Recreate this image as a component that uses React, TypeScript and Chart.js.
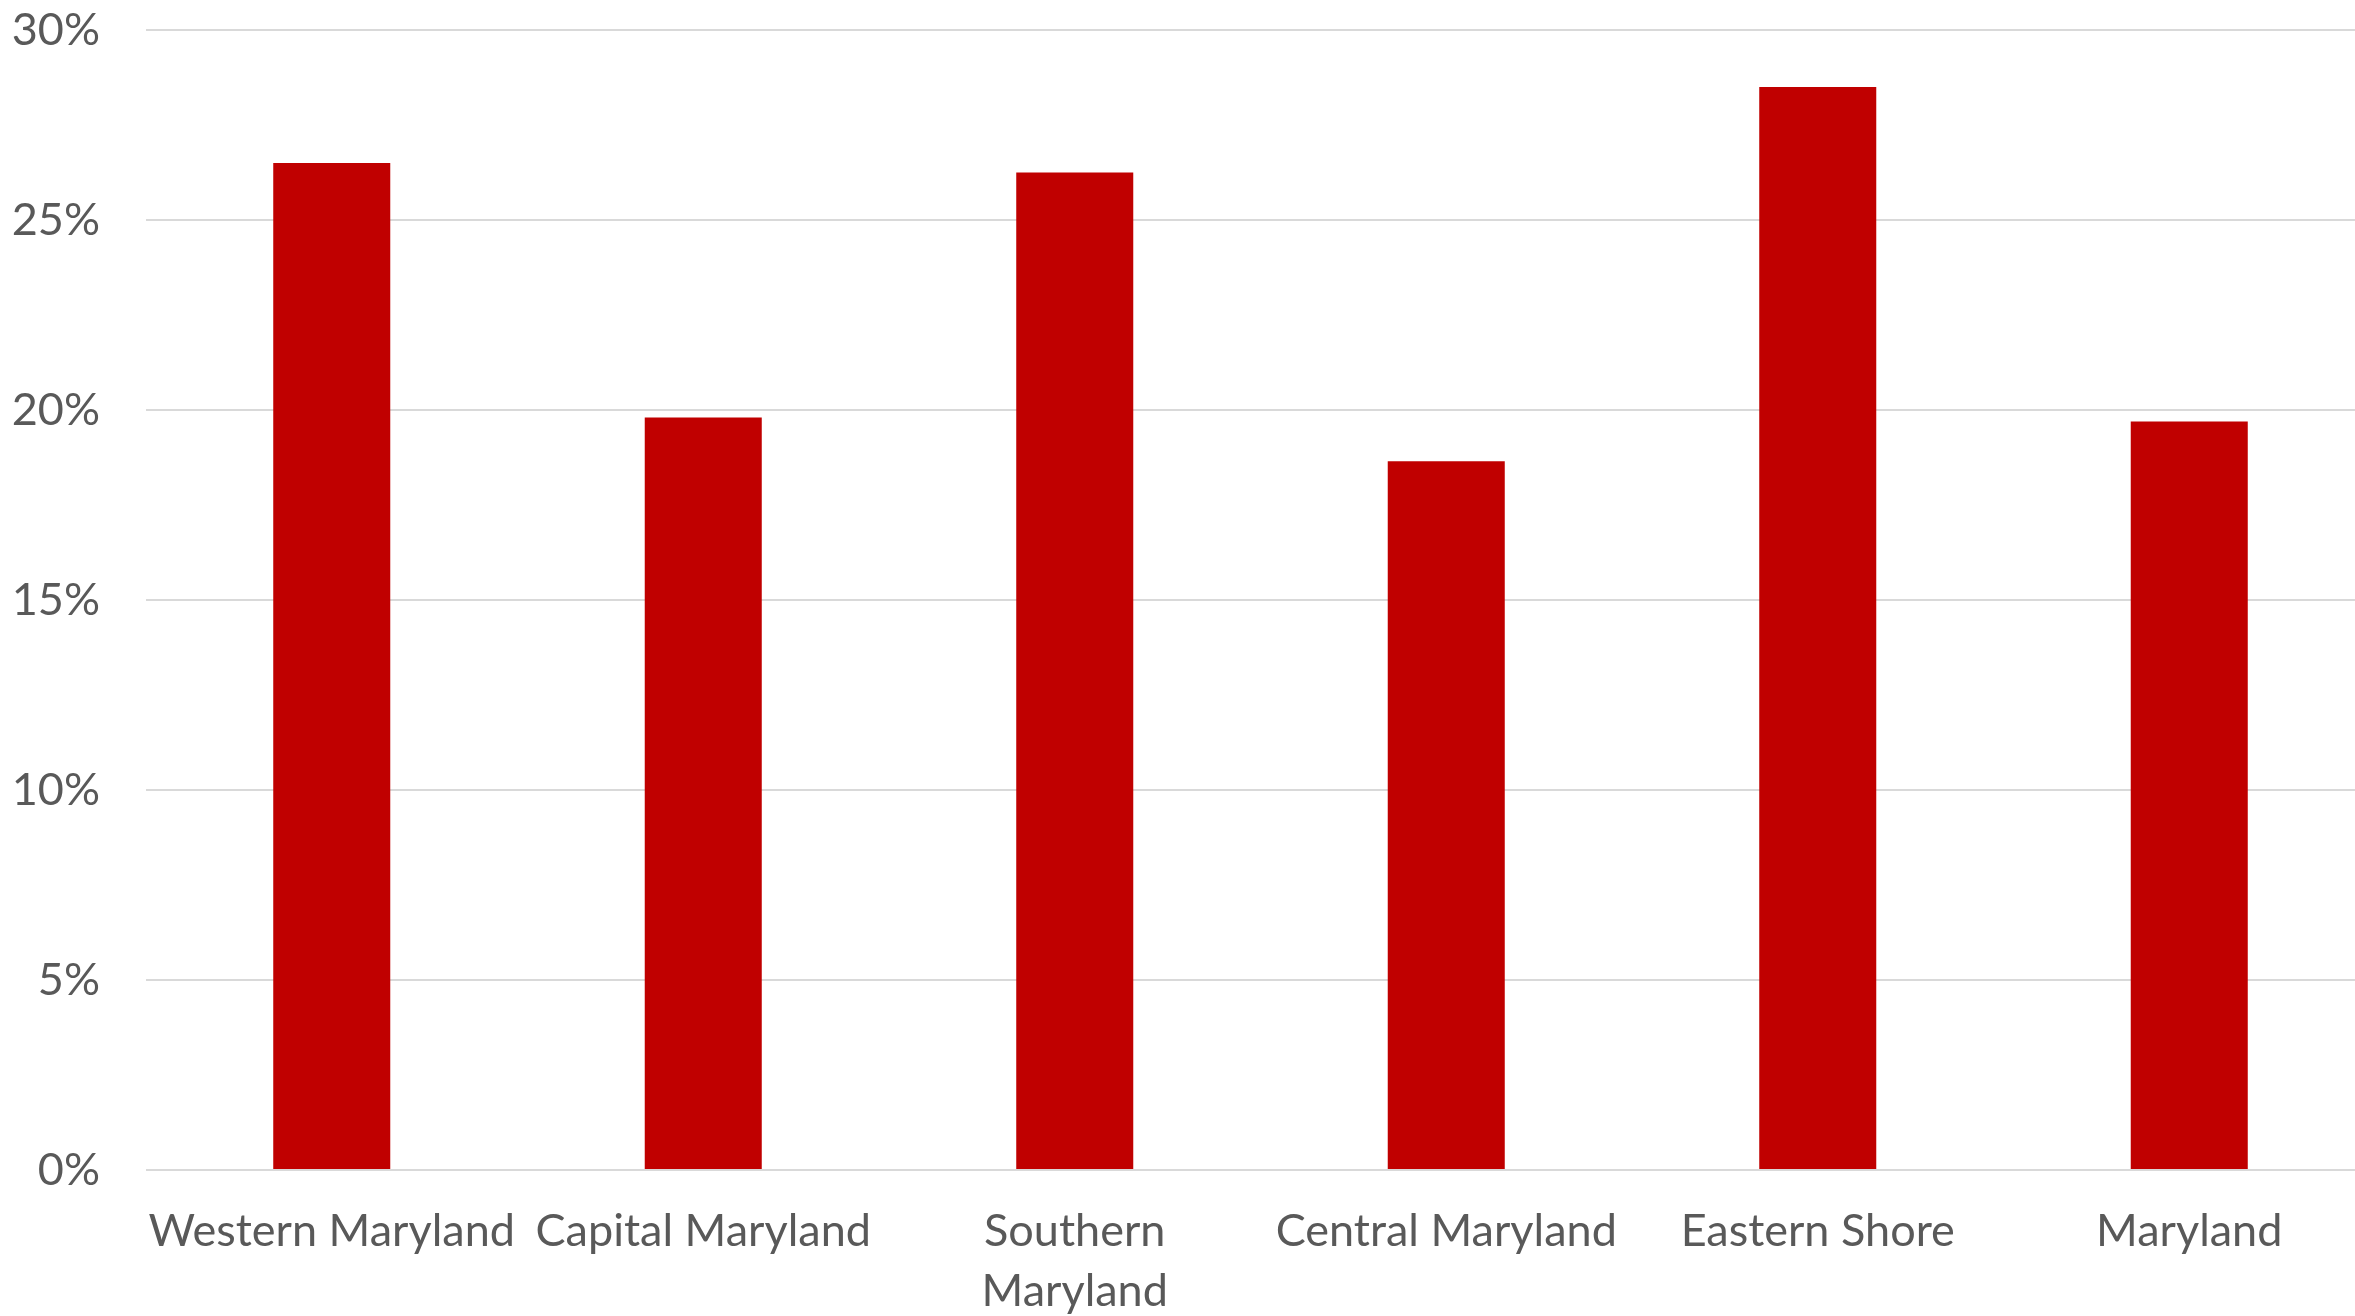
import React, { useEffect, useRef } from "react";
import { Chart, registerables } from "chart.js";

Chart.register(...registerables);

const categories: (string | string[])[] = [
  "Western Maryland",
  "Capital Maryland",
  ["Southern", "Maryland"],
  "Central Maryland",
  "Eastern Shore",
  "Maryland",
];
const values: number[] = [26.5, 19.8, 26.25, 18.65, 28.5, 19.7];
const yTicks: number[] = [0, 5, 10, 15, 20, 25, 30];

export default function App() {
  const ref = useRef<HTMLCanvasElement | null>(null);
  useEffect(() => {
    if (!ref.current) return;
    const font = { family: "Lato", size: 45, lineHeight: 1.32 };
    const chart = new Chart(ref.current, {
      type: "bar",
      data: {
        labels: categories,
        datasets: [
          {
            data: values,
            backgroundColor: "#C00000",
            borderWidth: 0,
            categoryPercentage: 1,
            barPercentage: 0.315,
          },
        ],
      },
      options: {
        animation: false,
        responsive: false,
        maintainAspectRatio: false,
        layout: { padding: { top: 30, right: 0, left: 0, bottom: 0 } },
        plugins: { legend: { display: false }, tooltip: { enabled: false } },
        scales: {
          x: {
            grid: { display: false, drawTicks: false },
            border: { display: false },
            ticks: { color: "#595959", font, padding: 32, maxRotation: 0, autoSkip: false },
            afterFit: (s: any) => {
              s.height = 146;
              s.paddingLeft = 0;
              s.paddingRight = 0;
            },
          },
          y: {
            min: 0,
            max: 30,
            afterBuildTicks: (s: any) => {
              s.ticks = yTicks.map((v) => ({ value: v }));
            },
            grid: { color: "#d9d9d9", lineWidth: 2, drawTicks: false },
            border: { display: false },
            ticks: {
              color: "#595959",
              font,
              padding: 46,
              callback: (v: any) => v + "%",
            },
            afterFit: (s: any) => {
              s.width = 146;
              s.paddingTop = 0;
              s.paddingBottom = 0;
            },
          },
        },
      },
    });
    return () => chart.destroy();
  }, []);
  return (
    <div style={{ position: "fixed", left: 0, top: 0, width: 2355, height: 1316, overflow: "hidden", background: "#fff" }}>
      <canvas ref={ref} width={2375} height={1316} style={{ display: "block" }} />
    </div>
  );
}
